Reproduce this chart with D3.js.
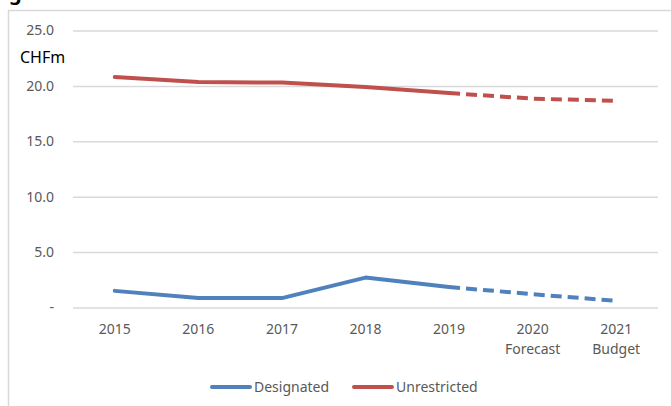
<!DOCTYPE html>
<html>
<head>
<meta charset="utf-8">
<script src="https://cdn.jsdelivr.net/npm/d3@7"></script>
<style>
  body { margin: 0; background: #fff; }
  text { font-family: "Noto Sans", sans-serif; }
</style>
</head>
<body>
<div id="chart"></div>
<script>
var years = ['2015', '2016', '2017', '2018', '2019', '2020', '2021'],
    subLabels = ['', '', '', '', '', 'Forecast', 'Budget'],
    designated = [1.5, 0.85, 0.85, 2.7, 1.85, 1.2, 0.6],
    unrestricted = [20.8, 20.35, 20.3, 19.9, 19.35, 18.85, 18.65],
    yTicks = [0, 5, 10, 15, 20, 25],
    firstDashed = 4;

var width = 671,
    height = 406,
    plot = { left: 73, right: 658, top: 30.5, bottom: 307.5 };

var svg = d3.select('#chart').append('svg')
    .attr('width', width)
    .attr('height', height);

// chart frame (extends past the window)
svg.append('rect')
    .attr('x', 8.5).attr('y', 10.5)
    .attr('width', 700).attr('height', 420)
    .attr('fill', 'none')
    .attr('stroke', '#d9d9d9')
    .attr('stroke-width', 1.5);

// bit of the heading above, cut off
svg.append('text')
    .attr('x', 9).attr('y', 0)
    .attr('font-size', 20)
    .attr('font-weight', 'bold')
    .attr('fill', '#000')
    .text('g');

var xScale = d3.scalePoint()
    .domain(years)
    .range([plot.left, plot.right])
    .padding(0.5);

var yScale = d3.scaleLinear()
    .domain([0, 25])
    .range([plot.bottom, plot.top]);

var yAxis = d3.axisLeft(yScale)
    .tickValues(yTicks)
    .tickSize(-(plot.right - plot.left))
    .tickPadding(19)
    .tickFormat(function(d) { return d === 0 ? '-   ' : d3.format('.1f')(d); });

var yGuide = svg.append('g')
    .attr('transform', 'translate(' + plot.left + ',0)')
    .call(yAxis);
yGuide.select('.domain').remove();
yGuide.selectAll('line').attr('stroke', '#d9d9d9').attr('stroke-width', 1.5);
yGuide.selectAll('text')
    .attr('fill', '#595959')
    .attr('font-size', 14)
    .style('font-family', '"Noto Sans", sans-serif');

svg.append('text')
    .attr('x', 20).attr('y', 63)
    .attr('font-size', 16)
    .attr('fill', '#000')
    .text('CHFm');

// x labels
var xLabels = svg.append('g');
years.forEach(function(y, i) {
    var t = xLabels.append('text')
        .attr('x', xScale(y))
        .attr('y', 334)
        .attr('text-anchor', 'middle')
        .attr('font-size', 14)
        .attr('fill', '#595959');
    t.append('tspan').attr('x', xScale(y)).text(y);
    if (subLabels[i]) {
        t.append('tspan').attr('x', xScale(y)).attr('dy', 20).text(subLabels[i]);
    }
});

var line = d3.line()
    .x(function(d) { return xScale(d.year); })
    .y(function(d) { return yScale(d.value); });

function drawSeries(values, color) {
    var pts = values.map(function(v, i) { return { year: years[i], value: v }; });
    svg.append('path')
        .datum(pts.slice(0, firstDashed + 1))
        .attr('d', line)
        .attr('fill', 'none')
        .attr('stroke', color)
        .attr('stroke-width', 4)
        .attr('stroke-linejoin', 'round')
        .attr('stroke-linecap', 'round');
    svg.append('path')
        .datum(pts.slice(firstDashed))
        .attr('d', line)
        .attr('fill', 'none')
        .attr('stroke', color)
        .attr('stroke-width', 4)
        .attr('stroke-dasharray', '11,6');
}

drawSeries(designated, '#4f81bd');
drawSeries(unrestricted, '#c0504d');

// legend
var legend = [
    { name: 'Designated', color: '#4f81bd', x: 212 },
    { name: 'Unrestricted', color: '#c0504d', x: 354 }
];
legend.forEach(function(l) {
    svg.append('line')
        .attr('x1', l.x).attr('x2', l.x + 38)
        .attr('y1', 387).attr('y2', 387)
        .attr('stroke', l.color)
        .attr('stroke-width', 4)
        .attr('stroke-linecap', 'round');
    svg.append('text')
        .attr('x', l.x + 42).attr('y', 392)
        .attr('font-size', 14)
        .attr('fill', '#595959')
        .text(l.name);
});
</script>
</body>
</html>
